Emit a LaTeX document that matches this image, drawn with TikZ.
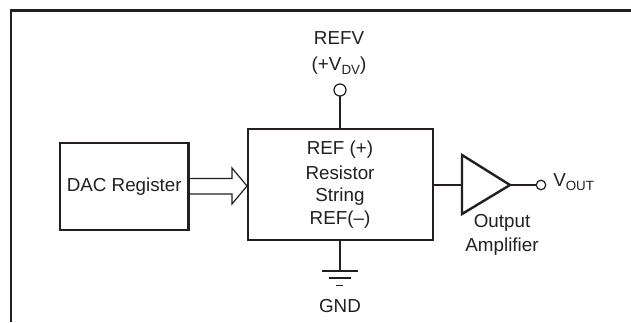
\documentclass[tikz,border=0pt]{standalone}
\usepackage{fontspec}
\setmainfont{Liberation Sans}
\definecolor{ink}{HTML}{231F20}
\tikzset{
  thick line/.style={draw=ink,line width=1.8pt},
  thin line/.style={draw=ink,line width=0.9pt},
  blockbox/.style={thick line,anchor=north west,inner sep=0pt,outer sep=0pt},
  label text/.style={text=ink,font=\fontsize{14.1}{16}\selectfont,inner sep=0pt,align=center},
  pin/.style={circle,draw=ink,line width=0.9pt,fill=white,inner sep=0pt,outer sep=0pt},
}
\newcommand{\sbs}[1]{\raisebox{-0.45ex}{\fontsize{10}{10}\selectfont #1}}
\begin{document}
\begin{tikzpicture}[x=0.75pt,y=-0.75pt]
\useasboundingbox (0,0) rectangle (631,322);
\fill[white] (0,0) rectangle (631,322);
% open frame
\coordinate (fbl) at (11,322);
\coordinate (ftl) at (11,10.5);
\coordinate (ftr) at (631,10.5);
\draw[thick line] (fbl) -- (ftl) -- (ftr);
% blocks
\node[blockbox,minimum width=128.5*0.75pt,minimum height=87*0.75pt,label text] (dac) at (60,143) {DAC Register};
\node[blockbox,minimum width=185*0.75pt,minimum height=111*0.75pt] (str) at (248,129) {};
\node[label text,anchor=center] (t1) at (340,149.5) {REF (+)};
\node[label text,anchor=center] (t2) at (340,173) {Resistor};
\node[label text,anchor=center] (t3) at (340,196.5) {String};
\node[label text,anchor=center] (t4) at (340,220) {REF(–)};
% bus arrow
\coordinate (a1) at (189,178.5);
\coordinate (a2) at (232,178.5);
\coordinate (a3) at (232,168);
\coordinate (a4) at (247,186);
\coordinate (a5) at (232,204);
\coordinate (a6) at (232,194);
\coordinate (a7) at (189,194);
\draw[thin line,line join=miter] (a1) -- (a2) -- (a3) -- (a4) -- (a5) -- (a6) -- (a7);
% REFV
\node[label text] (refv) at (339,38.5) {REFV};
\node[label text] (vdv) at (339,65.5) {(+V\sbs{DV})};
\node[pin,minimum size=12*0.75pt] (top) at (340,90) {};
\draw[thin line] (top) -- (str.north -| top);
% GND
\coordinate (g0) at (340,271);
\draw[thin line] (str.south -| g0) -- (g0);
\coordinate (g1l) at (322,271); \coordinate (g1r) at (358,271);
\coordinate (g2l) at (329,278); \coordinate (g2r) at (351,278);
\coordinate (g3l) at (336,285.5); \coordinate (g3r) at (343,285.5);
\draw[thin line] (g1l) -- (g1r) (g2l) -- (g2r) (g3l) -- (g3r);
\node[label text] (gnd) at (340,306) {GND};
% amplifier
\coordinate (ampt) at (462,155);
\coordinate (ampb) at (462,214);
\coordinate (ampo) at (510,185);
\coordinate (ampi) at (462,185);
\draw[thick line,line join=miter] (ampt) -- (ampo) -- (ampb) -- cycle;
\draw[thin line] (str.east |- ampi) -- (ampi);
\node[pin,minimum size=9.5*0.75pt] (out) at (541,185) {};
\draw[thin line] (ampo) -- (out);
\node[label text,anchor=west] (vout) at (553,182) {V\sbs{OUT}};
\node[label text] (o1) at (502,222.5) {Output};
\node[label text] (o2) at (502,247) {Amplifier};
\end{tikzpicture}
\end{document}
